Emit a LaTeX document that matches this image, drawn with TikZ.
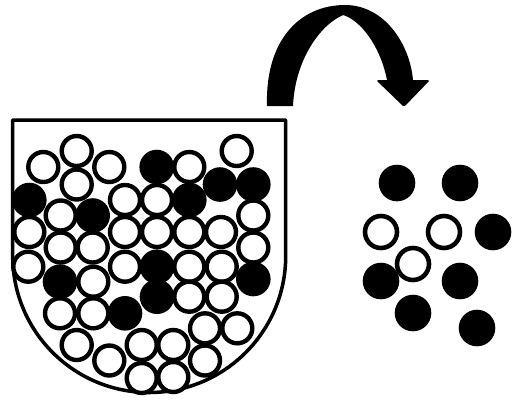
\documentclass[tikz,border=0pt]{standalone}
\usepackage{tikz}
\usetikzlibrary{calc}

\begin{document}
\begin{tikzpicture}[x=0.02cm, y=-0.02cm,
    open ball/.style={draw=black, fill=white, line width=2.5pt},
    full ball/.style={fill=black},
    loose open/.style={draw=black, fill=white, line width=2.6pt}]
    \useasboundingbox (0,0) rectangle (513,400);
    % the bowl
    \draw[line width=2pt, line join=round] (12.7,120) -- (12.7,256) arc[start angle=180, end angle=0, radius=136.5] -- (285.7,120) -- cycle;
    % balls in the bowl
    \foreach \p in {(156.7,167),(220,184.5),(253.3,184.5),(29.3,200),(189.3,200),(92.7,215.5),
                    (157,266.7),(60,281.7),(253.3,279),(157,296.7),(125,313.3)}
        \fill[full ball] \p circle[radius=17.3];
    \foreach \p in {(76.7,151),(236.7,151),
                    (43.3,167),(109.3,167),(189.3,167),
                    (76.7,184.5),
                    (125,200),(157,200),
                    (60.7,215.5),(253.3,215.5),
                    (29.3,232),(125,232),(157,232),(189.3,232),(221,232),
                    (60.7,247.5),(92.7,247.5),(253.3,247.5),
                    (28.3,266.7),(125,266.7),(189.3,266.7),(221.7,266.7),
                    (93.3,281.7),
                    (189.3,296.7),(221.7,296.7),
                    (60,313.3),(93.3,313.3),
                    (205,328.3),(237.3,328.3),
                    (76.7,345),(141.7,345),(173.3,345),
                    (109.3,360.5),(205,360.5),
                    (141.7,378),(173.3,377)}
        \draw[open ball] \p circle[radius=15];
    % the arrow
    \fill (267,106) .. controls (265,40) and (300,5) .. (345,5)
        .. controls (385,5) and (410,45) .. (413,80) -- (387,80)
        .. controls (380,45) and (360,20) .. (343,15)
        .. controls (320,25) and (295,60) .. (293,106) -- cycle;
    \fill[rounded corners=1pt] (376,80) -- (430,80) -- (404,107) -- cycle;
    % balls taken out
    \foreach \p in {(397,183),(460,183),(493,232),(381,281),(460,281),(413,313),(477,328)}
        \fill[full ball] \p circle[radius=18.3];
    \foreach \p in {(381,232),(444,232),(413,264)}
        \draw[loose open] \p circle[radius=16];
\end{tikzpicture}
\end{document}
